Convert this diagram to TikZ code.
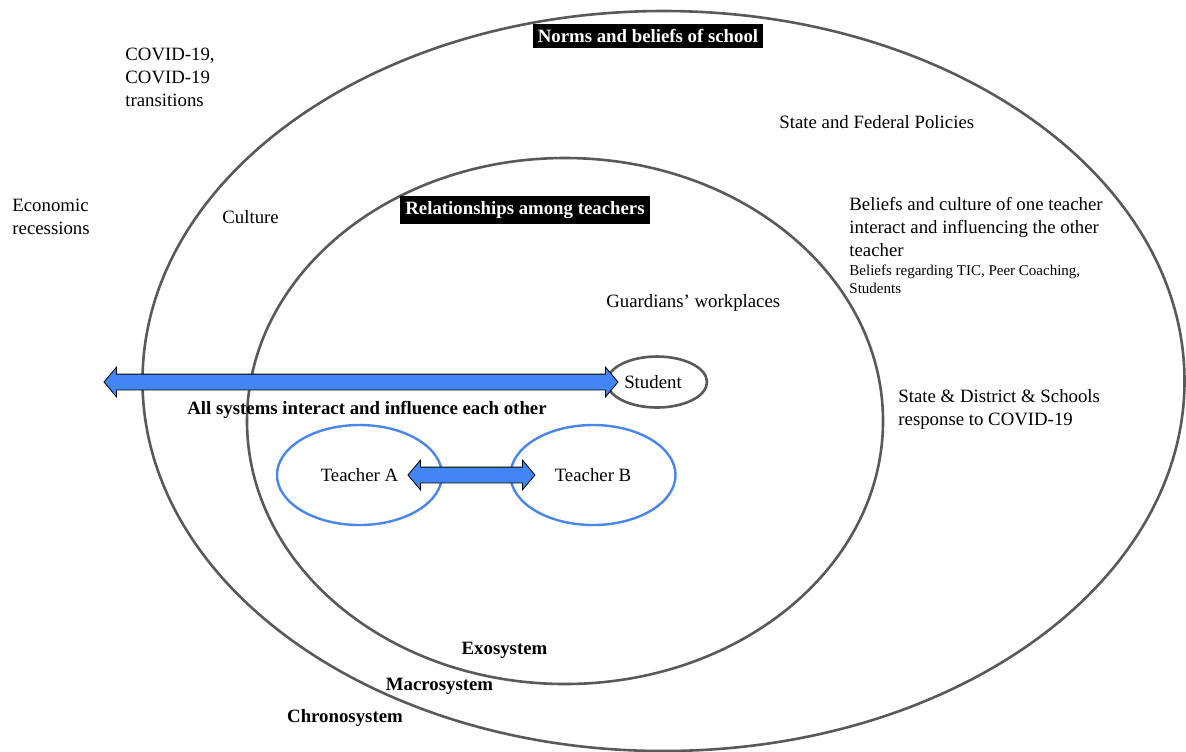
\documentclass[tikz,border=0pt]{standalone}
\usepackage{fontspec}
\setmainfont{Liberation Serif}
\usetikzlibrary{shapes.geometric,shapes.arrows,calc}
\definecolor{ringgray}{HTML}{595959}
\definecolor{teachblue}{HTML}{4A86E8}
\definecolor{arrowblue}{HTML}{4285F4}
\newcommand{\mainsize}{\fontsize{9.4}{11.5}\selectfont}
\tikzset{
  ring/.style = {ellipse, draw = ringgray, line width = 1.3pt, inner sep = 0pt},
  txt/.style = {font = \mainsize, inner sep = 0pt, align = left, anchor = north west},
  smalltxt/.style = {font = \fontsize{7.5}{9}\selectfont, inner sep = 0pt, align = left, anchor = north west},
  sysname/.style = {font = \mainsize\bfseries, inner sep = 0pt},
  blackbox/.style = {fill = black, text = white, font = \mainsize\bfseries, inner xsep = 2.5pt, inner ysep = 2.5pt},
  teacher/.style = {ellipse, draw = teachblue, line width = 1.2pt, minimum width = 82.5pt, minimum height = 50pt, font = \mainsize},
  dblarrow/.style = {double arrow, draw = black, fill = arrowblue, line width = 0.4pt, inner xsep = 0pt, inner ysep = 3.75pt,
    minimum width = 14.5pt, double arrow head extend = 3.5pt, double arrow tip angle = 100}
}
\begin{document}
\begin{tikzpicture}[x=0.5pt, y=-0.5pt]
\useasboundingbox (0,0) rectangle (1186,751);
% system rings
   \node[ring, minimum width = 521pt, minimum height = 370pt] (macro) at (663.5,381) {};
   \node[ring, minimum width = 318pt, minimum height = 263pt] (exo) at (565,421) {};
   \node[ring, minimum width = 50pt, minimum height = 25.5pt, font = \mainsize] (student) at (657,382) {\hspace{-4pt}Student};
% teachers
   \node[teacher] (teachA) at (359.5,475) {Teacher A\hspace{5pt}};
   \node[teacher] (teachB) at (593,475) {Teacher B\hspace{6pt}};
% headings
   \node[blackbox] (norms) at (648,36) {Norms and beliefs of school};
   \node[blackbox] (relations) at (525,210) {Relationships among teachers};
% free texts
   \node[txt] (covid) at (125,48) {COVID-19,\\COVID-19\\transitions};
   \node[txt] (econ) at (12,199) {Economic\\recessions};
   \node[txt] (culture) at (222,210) {Culture};
   \node[txt] (policies) at (779,115) {State and Federal Policies};
   \node[txt] (beliefs) at (849,197) {Beliefs and culture of one teacher\\interact and influencing the other\\teacher};
   \node[smalltxt] (regarding) at (849,265) {Beliefs regarding TIC, Peer Coaching,\\Students};
   \node[txt] (guardians) at (606,294) {Guardians’ workplaces};
   \node[txt] (response) at (898,389) {State \& District \& Schools\\response to COVID-19};
   \node[txt, font = \mainsize\bfseries] (allsys) at (187,401) {All systems interact and influence each other};
% system names
   \node[sysname] (exoname) at (504.5,650) {Exosystem};
   \node[sysname] (macroname) at (439.5,686) {Macrosystem};
   \node[sysname] (chrononame) at (345,718) {Chronosystem};
% arrows
   \node[dblarrow, minimum height = 257pt] (sysarrow) at (361,382) {};
   \node[dblarrow, minimum height = 63.5pt, xshift = -2.4pt] (abarrow) at ($(teachA)!0.5!(teachB)$) {};
\end{tikzpicture}
\end{document}
